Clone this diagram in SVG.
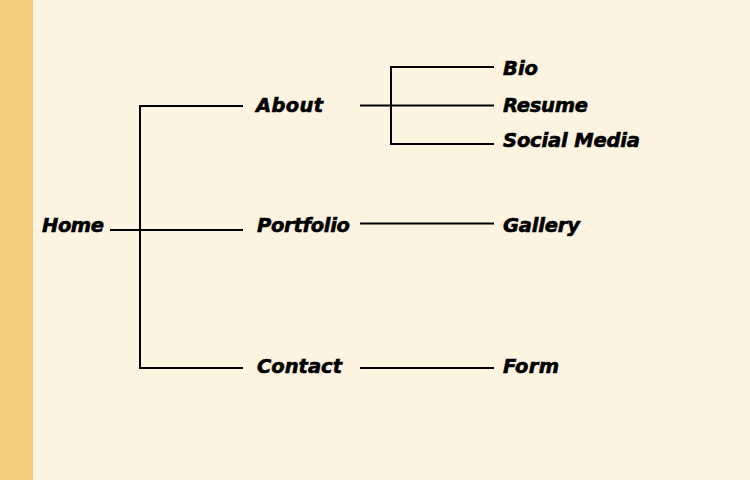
<svg xmlns="http://www.w3.org/2000/svg" width="750" height="480" viewBox="0 0 750 480">
<style>
.t{font-family:"DejaVu Sans","Liberation Sans",Arial,sans-serif;font-weight:bold;font-style:italic;font-size:19.5px;fill:#000;stroke:#000;stroke-width:0.6;}
.c{stroke:#000;stroke-width:2;fill:none;stroke-linecap:square;}
</style>
<rect x="0" y="0" width="750" height="480" fill="#FCF4E1"/>
<rect x="0" y="0" width="33" height="480" fill="#F4CD7C"/>
<g id="connectors">
<path class="c" d="M111 230H242"/>
<path class="c" d="M140 106V368"/>
<path class="c" d="M140 106H242"/>
<path class="c" d="M140 368H242"/>
<path class="c" d="M361 105.5H493"/>
<path class="c" d="M391 67V144"/>
<path class="c" d="M391 67H493"/>
<path class="c" d="M391 144H493"/>
<path class="c" d="M361 223.5H493"/>
<path class="c" d="M361 368H493"/>
</g>
<g id="home"><text class="t" x="42" y="232" textLength="62">Home</text></g>
<g id="about"><text class="t" x="256" y="112" textLength="67">About</text></g>
<g id="portfolio"><text class="t" x="257" y="232" textLength="93">Portfolio</text></g>
<g id="contact"><text class="t" x="257" y="373" textLength="85">Contact</text></g>
<g id="bio"><text class="t" x="503" y="75" textLength="35">Bio</text></g>
<g id="resume"><text class="t" x="503" y="112" textLength="85">Resume</text></g>
<g id="social-media"><text class="t" x="503" y="147" textLength="137">Social Media</text></g>
<g id="gallery"><text class="t" x="503" y="232" textLength="77">Gallery</text></g>
<g id="form"><text class="t" x="503" y="373" textLength="56">Form</text></g>
</svg>
